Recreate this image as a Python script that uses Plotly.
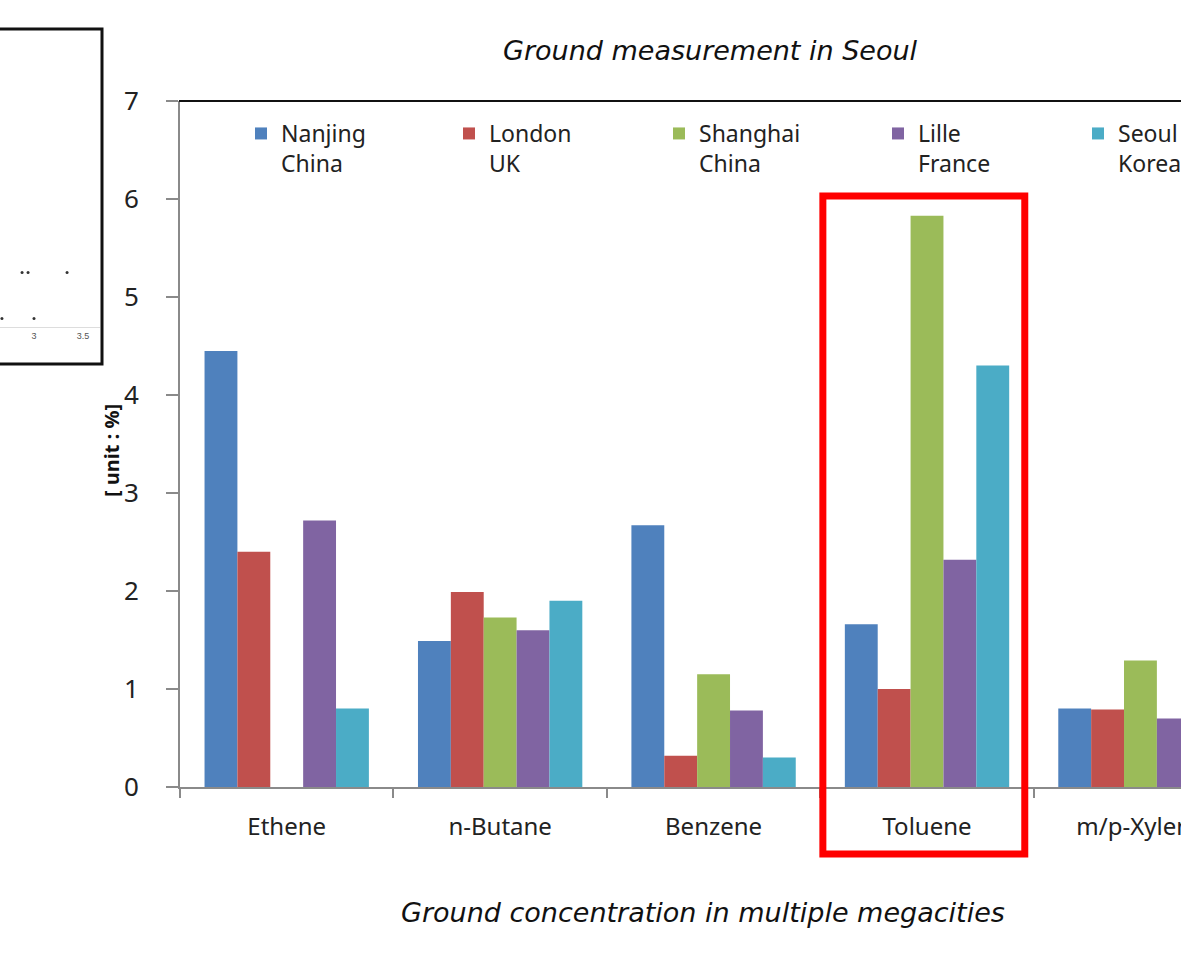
import plotly.graph_objects as go

W, H = 1181, 954

categories = ["Ethene", "n-Butane", "Benzene", "Toluene", "m/p-Xylene"]
cities = ["Nanjing<br>China", "London<br>UK", "Shanghai<br>China", "Lille<br>France", "Seoul<br>Korea"]
colors = ["#4F81BD", "#C0504D", "#9BBB59", "#8064A2", "#4BACC6"]

nanjing = [4.45, 1.49, 2.67, 1.66, 0.80]
london = [2.40, 1.99, 0.32, 1.00, 0.79]
shanghai = [None, 1.73, 1.15, 5.83, 1.29]
lille = [2.72, 1.60, 0.78, 2.32, 0.70]
seoul = [0.80, 1.90, 0.30, 4.30, None]
series = [nanjing, london, shanghai, lille, seoul]

y_ticks = [0, 1, 2, 3, 4, 5, 6, 7]

# inset (partially visible scatter panel at the left)
inset_x = [2.878, 2.939, 3.337, 2.673, 3.0]
inset_y = [1.9, 1.9, 1.9, 0.3, 0.3]
inset_ticks = [3, 3.5]
inset_ticklabels = ["3", "3.5"]

def px_x(p):
    return p / W

def px_y(p):
    return (H - p) / H

legend_px = [241, 449, 659, 878, 1078]

fig = go.Figure()
for i, (name, vals, col) in enumerate(zip(cities, series, colors)):
    lg = "legend" if i == 0 else f"legend{i+1}"
    fig.add_trace(go.Bar(
        x=categories, y=vals, name=name, marker=dict(color=col, line=dict(width=0)),
        legend=lg, xaxis="x", yaxis="y"))

fig.add_trace(go.Scatter(
    x=inset_x, y=inset_y, mode="markers", marker=dict(color="#333", size=3),
    xaxis="x2", yaxis="y2", showlegend=False))

layout_legends = {}
for i, lx in enumerate(legend_px):
    key = "legend" if i == 0 else f"legend{i+1}"
    layout_legends[key] = dict(
        x=px_x(lx), y=px_y(112), xanchor="left", yanchor="top",
        xref="container", yref="container",
        orientation="h", valign="top", bgcolor="rgba(0,0,0,0)",
        font=dict(family="Noto Sans", size=23, color="#222"),
        itemwidth=30, tracegroupgap=0)

fig.update_layout(
    width=W, height=H,
    margin=dict(l=0, r=0, t=0, b=0, autoexpand=False),
    paper_bgcolor="white", plot_bgcolor="white",
    barmode="group", bargap=0.23, bargroupgap=0,
    **layout_legends,
    xaxis=dict(
        domain=[px_x(180), 1], range=[-0.5, 4.19], automargin=False,
        showline=True, linecolor="#8a8a8a", linewidth=2,
        ticks="outside", ticklen=9, tickwidth=2, tickcolor="#8a8a8a",
        tickson="boundaries", showgrid=False, zeroline=False,
        tickfont=dict(family="Noto Sans", size=24, color="#222"),
        ticklabelstandoff=17, anchor="y"),
    yaxis=dict(
        domain=[px_y(787), px_y(101)], range=[0, 7], tickvals=y_ticks, automargin=False,
        showline=True, linecolor="#8a8a8a", linewidth=2,
        ticks="outside", ticklen=12, tickwidth=2, tickcolor="#8a8a8a",
        showgrid=False, zeroline=False,
        tickfont=dict(family="Noto Sans", size=26, color="#222"),
        ticklabelstandoff=22, anchor="x"),
    xaxis2=dict(
        domain=[0, px_x(100)], range=[2.653, 3.673], anchor="y2", automargin=False,
        tickvals=inset_ticks, ticktext=inset_ticklabels,
        showline=True, linecolor="#dddddd", linewidth=1, showgrid=False,
        zeroline=False, ticks="", tickfont=dict(family="Liberation Sans", size=9, color="#555")),
    yaxis2=dict(
        domain=[px_y(327), px_y(40)], range=[0, 10], anchor="x2", automargin=False,
        showticklabels=False, showgrid=False, zeroline=False, showline=False),
    font=dict(family="Noto Sans"),
)

# top frame line of the main plot
fig.add_shape(type="line", xref="paper", yref="paper",
              x0=px_x(179), x1=1, y0=px_y(101), y1=px_y(101),
              line=dict(color="#111", width=2))
# inset frame
fig.add_shape(type="rect", xref="paper", yref="paper",
              x0=-0.01, x1=px_x(102), y0=px_y(364), y1=px_y(29),
              line=dict(color="#111", width=3))
# red highlight box around Toluene
ti = categories.index("Toluene")
fig.add_shape(type="rect", xref="x", yref="paper",
              x0=ti - 0.488, x1=ti + 0.458, y0=px_y(854), y1=px_y(196),
              line=dict(color="#FF0000", width=7))

fig.add_annotation(text="Ground measurement in Seoul", xref="paper", yref="paper",
                   x=px_x(710), y=px_y(50), xanchor="center", yanchor="middle", showarrow=False,
                   font=dict(family="DejaVu Sans", size=27, color="#111", style="italic"))
fig.add_annotation(text="Ground concentration in multiple megacities", xref="paper", yref="paper",
                   x=px_x(703), y=px_y(912), xanchor="center", yanchor="middle", showarrow=False,
                   font=dict(family="DejaVu Sans", size=27, color="#111", style="italic"))
fig.add_annotation(text="<b>[ unit : %]</b>", xref="paper", yref="paper",
                   x=px_x(112), y=px_y(451), xanchor="center", yanchor="middle",
                   showarrow=False, textangle=-90,
                   font=dict(family="Noto Sans", size=20, color="#111"))

fig.write_html("out.html", config={"displayModeBar": False},
               post_script="document.body.style.margin='0';")
